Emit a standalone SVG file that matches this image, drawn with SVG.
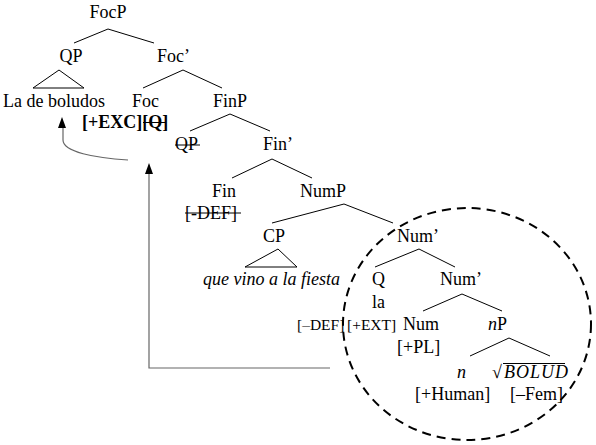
<svg xmlns="http://www.w3.org/2000/svg" width="596" height="445" viewBox="0 0 596 445">
<defs>
<style>
text{font-family:"Liberation Serif","Times New Roman",serif;font-size:18px;fill:#000}
.it{font-style:italic}
.b{font-weight:bold}
.sm{font-size:15.5px}
.edge{stroke:#000;stroke-width:1;fill:none}
.tri{stroke:#000;stroke-width:1;fill:none}
.strike{stroke:#000;stroke-width:1}
.mv{stroke:#666;stroke-width:1.2;fill:none}
.head{fill:#000}
</style>
</defs>
<rect width="596" height="445" fill="#fff"/>
<g id="connectors">
<polyline class="edge" points="74,43 108,29 154,43"/>
<polygon class="tri" points="59,70 33,88 84,88"/>
<polyline class="edge" points="143,88 183,70 222,88"/>
<polyline class="edge" points="190,131 230,114 270,131"/>
<polyline class="edge" points="232,178 272,159 312,178"/>
<polyline class="edge" points="272,223 344,204 393,223"/>
<polygon class="tri" points="278,249 245,267 297,267"/>
<polyline class="edge" points="375,267 419,249 455,267"/>
<polyline class="edge" points="423,311 462,294 502,311"/>
<polyline class="edge" points="470,356 509,338 550,356"/>
<polyline class="mv" points="330,368 149,368 149,172"/>
<polygon class="head" points="149,163 145,174 153,174"/>
<path class="mv" d="M128,160 C95,158 63,152 63,140 L63,127"/>
<polygon class="head" points="62,117 58,128 66,128"/>
</g>
<g id="FocP"><text x="108" y="18" text-anchor="middle">FocP</text></g>
<g id="QP"><text x="71" y="62" text-anchor="middle">QP</text></g>
<g id="FocBar"><text x="157" y="62">Foc’</text></g>
<g id="LaDeBoludos"><text x="3" y="107">La de boludos</text></g>
<g id="Foc"><text x="132" y="107">Foc</text>
<text x="82" y="128" class="b">[+EXC][Q]</text>
<line class="strike" x1="143" y1="122.5" x2="166" y2="122.5"/></g>
<g id="FinP"><text x="213" y="107">FinP</text></g>
<g id="QPtrace"><text x="175" y="150">QP</text>
<line class="strike" x1="175" y1="145" x2="200" y2="145"/></g>
<g id="FinBar"><text x="263" y="150">Fin’</text></g>
<g id="Fin"><text x="212" y="197">Fin</text>
<text x="185" y="219">[-DEF]</text>
<line class="strike" x1="185" y1="213" x2="241" y2="213"/></g>
<g id="NumP"><text x="300" y="197">NumP</text></g>
<g id="CP"><text x="263" y="242">CP</text></g>
<g id="CPcontent"><text x="203" y="285" class="it">que vino a la fiesta</text></g>
<g id="NumBar1"><text x="397" y="242">Num’</text></g>
<g id="Q"><text x="372" y="285">Q</text><text x="372" y="308">la</text>
<text x="297" y="330" class="sm">[–DEF]</text>
<text x="347" y="330" class="sm">[+EXT]</text></g>
<g id="NumBar2"><text x="440" y="285">Num’</text></g>
<g id="Num"><text x="403" y="330">Num</text><text x="397" y="353">[+PL]</text></g>
<g id="nP"><text x="488" y="330"><tspan class="it">n</tspan>P</text></g>
<g id="n"><text x="457" y="378" class="it">n</text><text x="415" y="400">[+Human]</text></g>
<g id="root"><text x="492" y="378">√</text>
<line class="strike" x1="503" y1="363.5" x2="565" y2="363.5"/>
<text x="504" y="378" class="it" letter-spacing="1">BOLUD</text>
<text x="510" y="400">[–Fem]</text></g>
<g id="domain"><ellipse cx="467" cy="324" rx="124" ry="116" fill="none" stroke="#000" stroke-width="2" stroke-dasharray="9 6"/></g>
</svg>
